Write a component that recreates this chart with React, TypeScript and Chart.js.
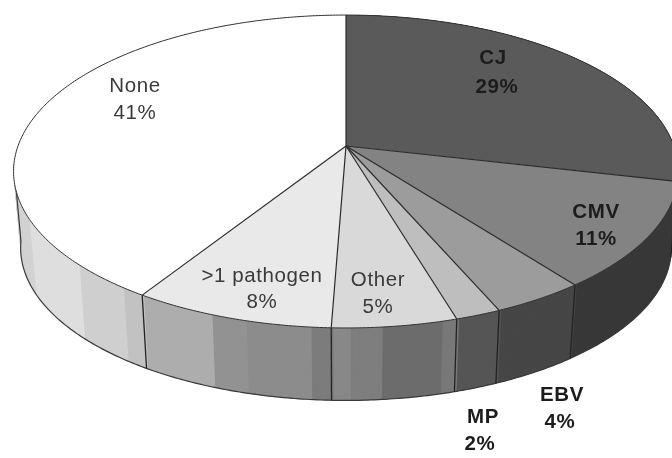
import React, { useEffect, useRef } from "react";
import { Chart, registerables } from "chart.js";

Chart.register(...registerables);

const categories = ["CJ", "CMV", "EBV", "MP", "Other", ">1 pathogen", "None"];
const shares = [28.6, 11.0, 3.9, 1.9, 5.2, 8.4, 41.0];
const shareLabels = ["29%", "11%", "4%", "2%", "5%", "8%", "41%"];
const faceColors = ["#5a5a5a", "#838383", "#9c9c9c", "#bebebe", "#d9d9d9", "#e9e9e9", "#ffffff"];

const sideBandEnds = [39.6, 43.5, 45.4, 46.1, 48.6, 49.9, 50.6, 51.5, 54.2, 55.7, 59, 60.1, 62.9, 67.7, 100];
const sideBandShades = ["#383838", "#464646", "#555555", "#787878", "#6c6c6c", "#7e7e7e", "#888888", "#7c7c7c", "#8c8c8c", "#929292", "#adadad", "#c2c2c2", "#cfcfcf", "#dedede", "#d2d2d2"];

const labelSpots = [
  { x: 493, y: 58, px: 497, py: 87, bold: true },
  { x: 596, y: 212, px: 596, py: 239, bold: true },
  { x: 562, y: 395, px: 560, py: 422, bold: true },
  { x: 483, y: 417, px: 480, py: 444, bold: true },
  { x: 378, y: 280, px: 378, py: 307, bold: false },
  { x: 262, y: 276, px: 262, py: 302, bold: false },
  { x: 135, y: 86, px: 135, py: 113, bold: false },
];

const TILT = 0.163;
const top = { cx: 346, cy: 146, a: 328, b: 152.3 };
const bottom = { cx: 346, cy: 223, a: 321, b: 148.5 };
type Ring = typeof top;

function project(r: Ring, angle: number): [number, number] {
  const u = Math.cos(angle);
  const v = Math.sin(angle);
  const d = 1 - TILT * v;
  return [r.cx + (r.a * u) / d, r.cy + (r.b * v) / d];
}

function arcPoints(r: Ring, from: number, to: number): [number, number][] {
  const n = Math.max(2, Math.ceil(Math.abs(to - from) / 0.01));
  const pts: [number, number][] = [];
  for (let i = 0; i <= n; i++) pts.push(project(r, from + ((to - from) * i) / n));
  return pts;
}

function trace(ctx: CanvasRenderingContext2D, pts: [number, number][], move = true) {
  pts.forEach(([x, y], i) => (i === 0 && move ? ctx.moveTo(x, y) : ctx.lineTo(x, y)));
}

const perspectivePie = {
  id: "perspectivePie",
  beforeDatasetDraw(chart: any) {
    const ctx: CanvasRenderingContext2D = chart.ctx;
    const arcs = chart.getDatasetMeta(0).data as any[];
    const toAngle = (pct: number) => -Math.PI / 2 + (pct / 100) * Math.PI * 2;

    ctx.save();
    // extruded rim, built from wide overlapping quads so that the silhouette is
    // covered and no anti-aliasing seams show inside a band
    let prev = 0;
    sideBandEnds.forEach((end, i) => {
      const a0 = toAngle(prev) - 0.006;
      const a1 = toAngle(end);
      prev = end;
      ctx.fillStyle = sideBandShades[i];
      const t = arcPoints(top, a0, a1);
      const b = arcPoints(bottom, a0, a1);
      for (let k = 0; k < t.length - 1; k++) {
        const e = Math.min(k + 6, t.length - 1);
        ctx.beginPath();
        ctx.moveTo(t[k][0], t[k][1]);
        ctx.lineTo(t[e][0], t[e][1]);
        ctx.lineTo(b[e][0], b[e][1]);
        ctx.lineTo(b[k][0], b[k][1]);
        ctx.closePath();
        ctx.fill();
      }
    });

    // outer line of the rim
    ctx.strokeStyle = "#3a3a3a";
    ctx.lineWidth = 1.2;
    ctx.beginPath();
    const [lx, ly] = project(top, Math.PI - 0.12);
    ctx.moveTo(lx, ly);
    trace(ctx, arcPoints(bottom, Math.PI - 0.12, -0.1), false);
    ctx.stroke();

    // dividers on the rim
    ctx.strokeStyle = "#222222";
    ctx.lineWidth = 1.3;
    arcs.forEach((arc) => {
      const ang = arc.endAngle;
      if (Math.sin(ang) > 0.1) {
        const p = project(top, ang);
        const q = project(bottom, ang);
        ctx.beginPath();
        ctx.moveTo(p[0], p[1]);
        ctx.lineTo(q[0], q[1]);
        ctx.stroke();
      }
    });

    // top face
    arcs.forEach((arc) => {
      ctx.beginPath();
      ctx.moveTo(top.cx, top.cy);
      trace(ctx, arcPoints(top, arc.startAngle, arc.endAngle), false);
      ctx.closePath();
      ctx.fillStyle = arc.options.backgroundColor;
      ctx.fill();
    });
    arcs.forEach((arc) => {
      ctx.beginPath();
      const e = project(top, arc.startAngle);
      ctx.moveTo(top.cx, top.cy);
      ctx.lineTo(e[0], e[1]);
      ctx.strokeStyle = arc.options.borderColor;
      ctx.lineWidth = arc.options.borderWidth;
      ctx.stroke();
    });
    ctx.beginPath();
    trace(ctx, arcPoints(top, 0, Math.PI * 2));
    ctx.closePath();
    ctx.strokeStyle = "#333333";
    ctx.lineWidth = 1;
    ctx.stroke();

    // labels
    ctx.textAlign = "center";
    ctx.textBaseline = "middle";
    (ctx as any).letterSpacing = "0.6px";
    categories.forEach((name, i) => {
      const s = labelSpots[i];
      ctx.fillStyle = s.bold ? "#1c1c1c" : "#3a3a3a";
      ctx.font = `${s.bold ? "bold " : ""}20.5px "Liberation Sans", Arial, sans-serif`;
      ctx.fillText(name, s.x, s.y);
      ctx.fillText(shareLabels[i], s.px, s.py);
    });
    ctx.restore();
    return false;
  },
};

export default function App() {
  const ref = useRef<HTMLCanvasElement>(null);
  useEffect(() => {
    document.body.style.margin = "0";
    const chart = new Chart(ref.current!, {
      type: "pie",
      data: {
        labels: categories,
        datasets: [
          {
            data: shares,
            backgroundColor: faceColors,
            borderColor: "#2a2a2a",
            borderWidth: 1.2,
          },
        ],
      },
      options: {
        responsive: false,
        animation: false,
        rotation: 0,
        layout: { padding: 0 },
        plugins: { legend: { display: false }, tooltip: { enabled: false } },
      },
      plugins: [perspectivePie],
    } as any);
    return () => chart.destroy();
  }, []);
  return (
    <div style={{ width: 672, height: 458, background: "#fff", overflow: "hidden" }}>
      <canvas ref={ref} width={672} height={458} style={{ display: "block", filter: "blur(0.7px)" }} />
    </div>
  );
}
